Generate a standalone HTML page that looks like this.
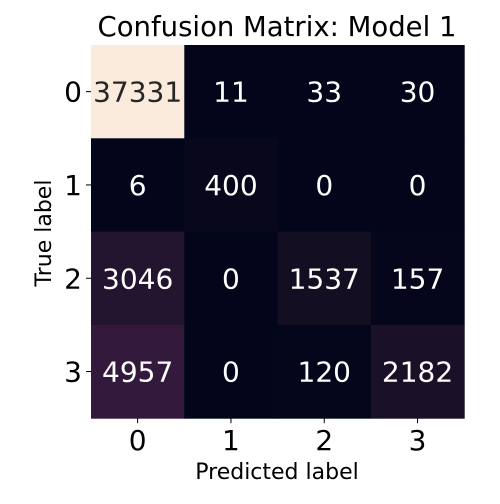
<!DOCTYPE html>
<html><head><meta charset="utf-8"><style>
body{margin:0;background:#fff;width:500px;height:500px;overflow:hidden;font-family:"DejaVu Sans",sans-serif}
</style></head><body>
<svg id="c" width="500" height="500" font-family="DejaVu Sans, sans-serif"></svg>
<script>
const predLabels=["0","1","2","3"];
const trueLabels=["0","1","2","3"];
const row0=[37331,11,33,30];
const row1=[6,400,0,0];
const row2=[3046,0,1537,157];
const row3=[4957,0,120,2182];
const rows=[row0,row1,row2,row3];
const svg=document.getElementById('c');
const NS='http://www.w3.org/2000/svg';
const x0=91,y0=45,cw=93.3;
const xPos=i=>x0+i*cw, yPos=i=>y0+i*cw;
const stops=[[0,[3,5,26]],[0.04,[20,14,34]],[0.058,[26,16,40]],[0.082,[35,21,48]],[0.133,[51,26,60]],[0.3,[112,31,87]],[0.5,[203,27,79]],[0.7,[243,118,81]],[0.85,[246,180,142]],[1,[250,235,221]]];
function color(t){for(let i=1;i<stops.length;i++){if(t<=stops[i][0]){const[a,ca]=stops[i-1],[b,cb]=stops[i];const f=(t-a)/(b-a);return 'rgb('+ca.map((v,k)=>Math.round(v+(cb[k]-v)*f)).join(',')+')';}}return 'rgb(250,235,221)';}
const mx=Math.max(...rows.flat());
function el(tag,attrs,txt){const e=document.createElementNS(NS,tag);for(const k in attrs)e.setAttribute(k,attrs[k]);if(txt!==undefined)e.textContent=txt;svg.appendChild(e);return e;}
rows.forEach((r,i)=>r.forEach((v,j)=>{
 const t=v/mx;
 const rc=el('rect',{x:xPos(j),y:yPos(i),width:cw+0.5,height:cw+0.5,fill:color(t)});
 
 
 const tx=el('text',{x:xPos(j)+cw/2,y:yPos(i)+cw/2+10,'text-anchor':'middle','font-size':'28',fill:t>0.5?'#262626':'#fff'},String(v));
 
 
}));
predLabels.forEach((l,j)=>{
 const tk=el('line',{x1:xPos(j)+cw/2,x2:xPos(j)+cw/2,y1:y0+4*cw,y2:y0+4*cw+5,stroke:'#000','stroke-width':1});
 
 
 const t=el('text',{x:xPos(j)+cw/2,y:450,'text-anchor':'middle','font-size':'28',fill:'#000'},l);
 
 
});
trueLabels.forEach((l,i)=>{
 const tk=el('line',{x1:x0-5,x2:x0,y1:yPos(i)+cw/2,y2:yPos(i)+cw/2,stroke:'#000','stroke-width':1});
 
 
 const t=el('text',{x:82,y:yPos(i)+cw/2+10,'text-anchor':'end','font-size':'28',fill:'#000'},l);
 
 
});
const title=el('text',{x:277,y:36,'text-anchor':'middle','font-size':'27.5',fill:'#000'},'Confusion Matrix: Model 1');


const xt=el('text',{x:277,y:479,'text-anchor':'middle','font-size':'22',fill:'#000'},'Predicted label');


const yt=el('text',{x:51,y:233,'text-anchor':'middle','font-size':'22',fill:'#000',transform:'rotate(-90 51 233)'},'True label');


</script>
</body></html>
